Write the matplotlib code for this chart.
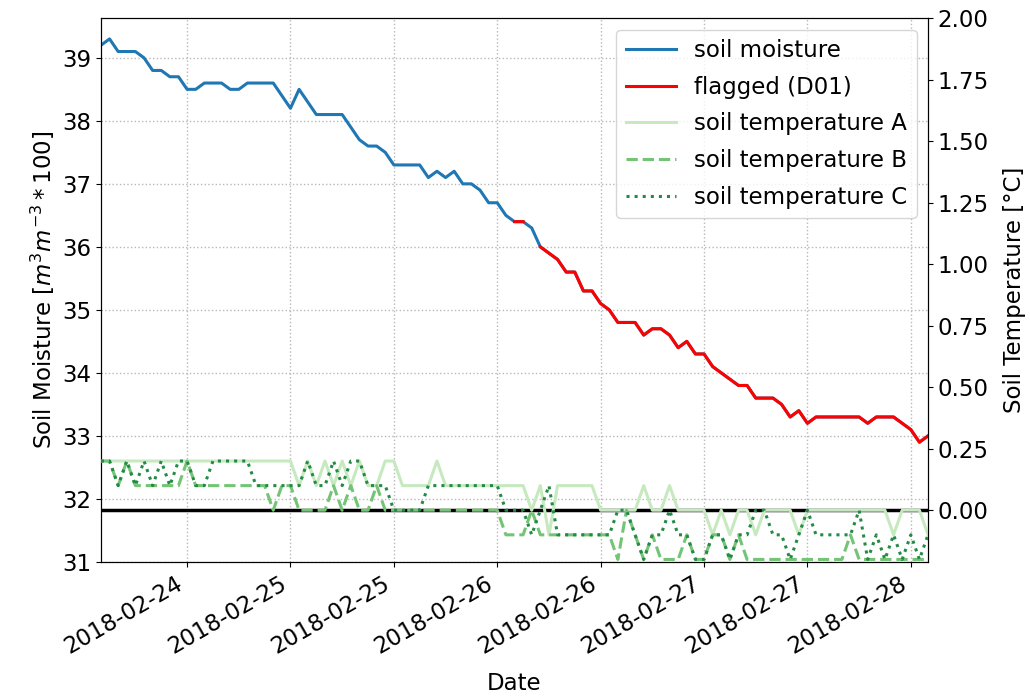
import numpy as np
import pandas as pd
import matplotlib
matplotlib.use("Agg")
import matplotlib.pyplot as plt
import matplotlib.dates as mdates
from matplotlib.ticker import MultipleLocator, FormatStrFormatter

# ~~~ data (hourly) ~~~
times = pd.date_range("2018-02-24 02:00", periods=97, freq="h")

soil_moisture = [39.2, 39.3, 39.1, 39.1, 39.1, 39.0, 38.8, 38.8, 38.7, 38.7,
                 38.5, 38.5, 38.6, 38.6, 38.6, 38.5, 38.5, 38.6, 38.6, 38.6,
                 38.6, 38.4, 38.2, 38.5, 38.3, 38.1, 38.1, 38.1, 38.1, 37.9,
                 37.7, 37.6, 37.6, 37.5, 37.3, 37.3, 37.3, 37.3, 37.1, 37.2,
                 37.1, 37.2, 37.0, 37.0, 36.9, 36.7, 36.7, 36.5, 36.4, 36.4,
                 36.3, 36.0, 35.9, 35.8, 35.6, 35.6, 35.3, 35.3, 35.1, 35.0,
                 34.8, 34.8, 34.8, 34.6, 34.7, 34.7, 34.6, 34.4, 34.5, 34.3,
                 34.3, 34.1, 34.0, 33.9, 33.8, 33.8, 33.6, 33.6, 33.6, 33.5,
                 33.3, 33.4, 33.2, 33.3, 33.3, 33.3, 33.3, 33.3, 33.3, 33.2,
                 33.3, 33.3, 33.3, 33.2, 33.1, 32.9, 33.0]

# indices flagged D01
flag_idx = [48, 49] + list(range(51, 97))

temp_a = [0.2] * 22 + \
         [0.2, 0.1, 0.2, 0.1, 0.2, 0.1, 0.2, 0.1, 0.2, 0.1,
          0.1, 0.2, 0.2, 0.1, 0.1, 0.1, 0.1, 0.2, 0.1, 0.1,
          0.1, 0.1, 0.1, 0.1, 0.1, 0.1, 0.1, 0.1, 0.0, 0.1,
          -0.1, 0.1, 0.1, 0.1, 0.1, 0.1, 0.0, 0.0, 0.0, 0.0,
          0.0, 0.1, 0.0, 0.0, 0.1, 0.0, 0.0, 0.0, 0.0, -0.1,
          0.0, -0.1, 0.0, 0.0, -0.1, 0.0, 0.0, 0.0, 0.0, -0.1,
          0.0, 0.0, 0.0, 0.0, 0.0, 0.0, 0.0, 0.0, 0.0, 0.0,
          -0.1, 0.0, 0.0, 0.0, -0.1]

temp_b = [0.2, 0.2, 0.1, 0.2, 0.1, 0.1, 0.1, 0.1, 0.1, 0.1,
          0.2, 0.1, 0.1, 0.1, 0.1, 0.1, 0.1, 0.1, 0.1, 0.1,
          0.0, 0.1, 0.1, 0.0, 0.0, 0.0, 0.0, 0.1, 0.0, 0.1,
          0.0, 0.0, 0.1, 0.0, 0.0, 0.0, 0.0, 0.0, 0.0, 0.0,
          0.0, 0.0, 0.0, 0.0, 0.0, 0.0, 0.0, -0.1, -0.1, -0.1,
          0.0, -0.1, -0.1, -0.1, -0.1, -0.1, -0.1, -0.1, -0.1, -0.1,
          -0.2, 0.0, -0.1, -0.2, -0.1, -0.2, -0.2, -0.2, -0.1, -0.2,
          -0.2, -0.1, -0.1, -0.2, -0.1, -0.2, -0.2, -0.2, -0.2, -0.2,
          -0.2, -0.2, -0.2, -0.2, -0.2, -0.2, -0.2, -0.1, -0.2, -0.2,
          -0.2, -0.2, -0.2, -0.2, -0.2, -0.2, -0.2]

temp_c = [0.2, 0.2, 0.1, 0.2, 0.1, 0.2, 0.1, 0.2, 0.1, 0.2,
          0.2, 0.1, 0.1, 0.2, 0.2, 0.2, 0.2, 0.2, 0.1, 0.1,
          0.1, 0.1, 0.1, 0.1, 0.2, 0.1, 0.1, 0.2, 0.1, 0.2,
          0.2, 0.1, 0.1, 0.1, 0.0, 0.0, 0.0, 0.0, 0.1, 0.1,
          0.1, 0.1, 0.1, 0.1, 0.1, 0.1, 0.1, 0.0, 0.0, 0.0,
          -0.1, 0.0, 0.1, -0.1, -0.1, -0.1, -0.1, -0.1, -0.1, -0.1,
          0.0, 0.0, -0.1, -0.2, -0.1, -0.1, 0.0, -0.1, -0.1, -0.2,
          -0.2, -0.1, -0.1, -0.2, -0.1, -0.1, 0.0, 0.0, -0.1, -0.1,
          -0.2, -0.1, 0.0, -0.1, -0.1, -0.1, -0.1, -0.1, 0.0, -0.2,
          -0.1, -0.2, -0.1, -0.2, -0.1, -0.2, -0.1]

# flagged series: NaN where not flagged
flagged = np.full(len(soil_moisture), np.nan)
flagged[flag_idx] = np.array(soil_moisture)[flag_idx]

plt.rcParams['font.size'] = 16.5

# ~~~ plot ~~~
fig = plt.figure(figsize=(10.30, 6.98), dpi=100)
ax1 = fig.add_axes([0.098, 0.195, 0.803, 0.779])
ax2 = ax1.twinx()

l1, = ax1.plot(times, soil_moisture, color='#1f77b4', lw=2.2, label='soil moisture')
l2, = ax1.plot(times, flagged, color='red', lw=2.2, label='flagged (D01)')

ax2.axhline(0, color='black', lw=2.5, zorder=1)
l3, = ax2.plot(times, temp_a, color='#c7e9c0', lw=2.2, ls='-', label='soil temperature A', zorder=2)
l4, = ax2.plot(times, temp_b, color='#74c476', lw=2.2, ls='--', label='soil temperature B', zorder=3)
l5, = ax2.plot(times, temp_c, color='#238b45', lw=2.2, ls=':', label='soil temperature C', zorder=4)

ax1.set_xlim(times[0], times[-1])
ax1.set_ylim(31, 39.63)
ax2.set_ylim(-0.21, 2.0)

ax1.yaxis.set_major_locator(MultipleLocator(1))
ax2.set_yticks(np.arange(0, 2.01, 0.25))
ax2.yaxis.set_major_formatter(FormatStrFormatter('%.2f'))

ax1.xaxis.set_major_locator(mdates.HourLocator(byhour=[0, 12]))
ax1.xaxis.set_major_formatter(mdates.DateFormatter('%Y-%m-%d'))
for lab in ax1.get_xticklabels():
    lab.set_rotation(30)
    lab.set_ha('right')

ax1.grid(True, linestyle=':', color='#b8b8b8', lw=1.0)

ax1.set_xlabel('Date', labelpad=10)
ax1.set_ylabel('Soil Moisture [$m^3 m^{-3} * 100$]')
ax2.set_ylabel('Soil Temperature [°C]', labelpad=10)

ax2.legend(handles=[l1, l2, l3, l4, l5], loc='upper right', labelspacing=0.6, handlelength=2.2)

fig.savefig('out.png', dpi=100)
